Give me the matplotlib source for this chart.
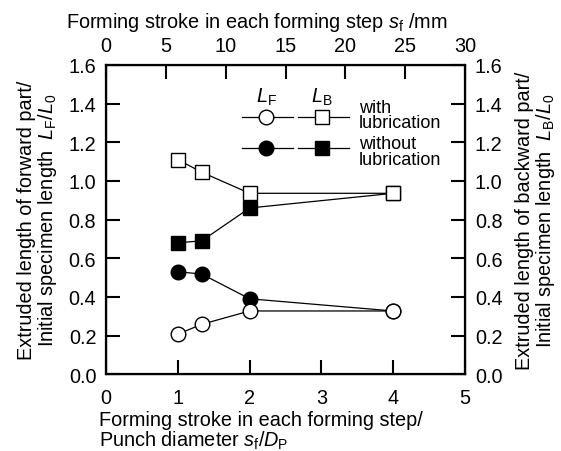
import matplotlib
matplotlib.use("Agg")
import matplotlib.pyplot as plt

plt.rcParams['font.family'] = ['Liberation Sans', 'DejaVu Sans']
plt.rcParams['mathtext.fontset'] = 'custom'
plt.rcParams['mathtext.rm'] = 'Liberation Sans'
plt.rcParams['mathtext.it'] = 'Liberation Sans:italic'

# Forming stroke normalised by punch diameter (D_P = 6 mm)
stroke_ratio = [1.0, 4 / 3, 2.0, 4.0]
lf_with = [0.207, 0.258, 0.327, 0.327]
lb_with = [1.11, 1.045, 0.936, 0.936]
lf_without = [0.530, 0.518, 0.390, 0.327]
lb_without = [0.680, 0.690, 0.860, 0.936]

bottom_ticks = [0, 1, 2, 3, 4, 5]
top_ticks = [0, 5, 10, 15, 20, 25, 30]
y_ticks = [0.0, 0.2, 0.4, 0.6, 0.8, 1.0, 1.2, 1.4, 1.6]

FS = 14.3
LEG_FS = 13.0
fig = plt.figure(figsize=(5.61, 4.52), dpi=100)
ax = fig.add_axes([0.189, 0.170, 0.640, 0.684])

ms = 10.5
lw = 0.9
ax.plot(stroke_ratio, lf_without, '-', color='black', lw=lw, marker='o', ms=ms,
        mfc='black', mec='black', mew=1.0, zorder=3)
ax.plot(stroke_ratio, lb_without, '-', color='black', lw=lw, marker='s', ms=ms,
        mfc='black', mec='black', mew=1.0, zorder=3)
ax.plot(stroke_ratio, lf_with, '-', color='black', lw=lw, marker='o', ms=ms,
        mfc='white', mec='black', mew=1.0, zorder=4)
ax.plot(stroke_ratio, lb_with, '-', color='black', lw=lw, marker='s', ms=ms,
        mfc='white', mec='black', mew=1.0, zorder=4)

ax.set_xlim(0, 5)
ax.set_ylim(0, 1.6)
ax.set_xticks(bottom_ticks)
ax.set_yticks(y_ticks)
ax.set_yticklabels([f"{v:.1f}" for v in y_ticks])

for s in ax.spines.values():
    s.set_linewidth(1.6)
ax.tick_params(direction='in', length=10, width=1.5, labelsize=FS)
ax.tick_params(axis='x', pad=10)
ax.tick_params(axis='y', pad=7)

ax.set_xlabel("Forming stroke in each forming step/\nPunch diameter $\\mathit{s}_{\\mathrm{f}}/\\mathit{D}_{\\mathrm{P}}$",
              fontsize=FS, ha='left', x=-0.02, linespacing=1.0, labelpad=2)
ax.set_ylabel("Extruded length of forward part/\nInitial specimen length  $\\mathit{L}_{\\mathrm{F}}/\\mathit{L}_{0}$",
              fontsize=FS, linespacing=1.0, labelpad=7)

ax_top = ax.twiny()
ax_top.set_xlim(0, 30)
ax_top.set_xticks(top_ticks)
ax_top.tick_params(direction='in', length=10, width=1.5, labelsize=FS, pad=7)
ax_top.set_xlabel("Forming stroke in each forming step $\\mathit{s}_{\\mathrm{f}}$ /mm",
                  fontsize=FS, labelpad=7, x=0.419)

ax_right = ax.twinx()
ax_right.set_ylim(0, 1.6)
ax_right.set_yticks(y_ticks)
ax_right.set_yticklabels([f"{v:.1f}" for v in y_ticks])
ax_right.tick_params(direction='in', length=10, width=1.5, labelsize=FS, pad=7)
ax_right.set_ylabel("Extruded length of backward part/\nInitial specimen length  $\\mathit{L}_{\\mathrm{B}}/\\mathit{L}_{0}$",
                    fontsize=FS, linespacing=1.0, rotation=90, labelpad=9)

# Hand-built legend
tr = ax.transAxes
def fx(px):
    return (px - 106) / 359
def fy(py):
    return (375 - py) / 309

for py, fill in [(118.3, 'white'), (149.3, 'black')]:
    ax.plot([fx(241.7), fx(292.7)], [fy(py)] * 2, '-', color='black', lw=lw,
            transform=tr, clip_on=False, zorder=5)
    ax.plot([fx(266)], [fy(py)], 'o', ms=ms, mfc=fill, mec='black', mew=1.0,
            transform=tr, clip_on=False, zorder=6)
    ax.plot([fx(298), fx(349)], [fy(py)] * 2, '-', color='black', lw=lw,
            transform=tr, clip_on=False, zorder=5)
    ax.plot([fx(321.7)], [fy(py)], 's', ms=ms, mfc=fill, mec='black', mew=1.0,
            transform=tr, clip_on=False, zorder=6)

ax.text(fx(266), fy(97), "$\\mathit{L}_{\\mathrm{F}}$", transform=tr, fontsize=FS,
        ha='center', va='center')
ax.text(fx(321.7), fy(97), "$\\mathit{L}_{\\mathrm{B}}$", transform=tr, fontsize=FS,
        ha='center', va='center')
ax.text(fx(359), fy(116), "with\nlubrication", transform=tr, fontsize=LEG_FS,
        ha='left', va='center', linespacing=0.9)
ax.text(fx(359), fy(152.5), "without\nlubrication", transform=tr, fontsize=LEG_FS,
        ha='left', va='center', linespacing=0.9)

fig.savefig("out.png", dpi=100)
